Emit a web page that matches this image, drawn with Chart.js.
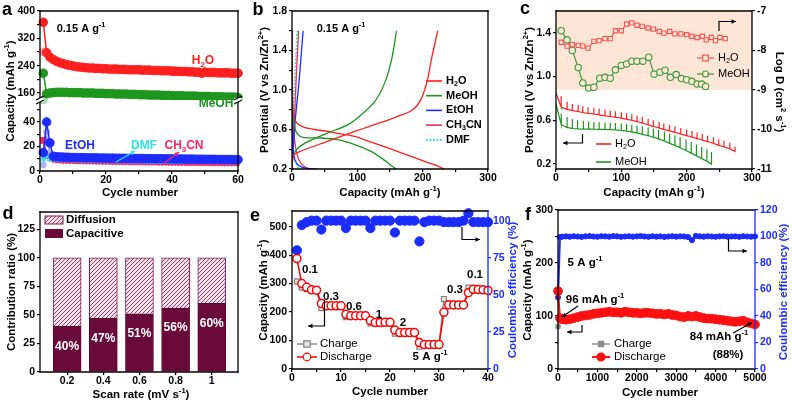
<!DOCTYPE html>
<html>
<head>
<meta charset="utf-8">
<title>Solvent comparison</title>
<script src="https://cdn.jsdelivr.net/npm/chart.js@4.4.1/dist/chart.umd.min.js"></script>
<style>
  html, body { margin: 0; padding: 0; background: #fff; }
  #fig { position: relative; width: 792px; height: 404px; overflow: hidden; background: #fff; }
  #fig canvas { position: absolute; left: 0; top: 0; }
</style>
</head>
<body>
<div id="fig">
  <canvas id="aTop" width="792" height="404"></canvas>
  <canvas id="aBot" width="792" height="404"></canvas>
  <canvas id="cvB" width="792" height="404"></canvas>
  <canvas id="cvC" width="792" height="404"></canvas>
  <canvas id="cvD" width="792" height="404"></canvas>
  <canvas id="cvE" width="792" height="404"></canvas>
  <canvas id="cvF" width="792" height="404"></canvas>
</div>
<script>
// ---- a: capacity vs cycle in each solvent (0.15 A/g) ----
const aCycles = [1, 2, 3, 4, 5, 6, 7, 8, 9, 10, 11, 12, 13, 14, 15, 16, 17, 18, 19, 20,
  21, 22, 23, 24, 25, 26, 27, 28, 29, 30, 31, 32, 33, 34, 35, 36, 37, 38, 39, 40,
  41, 42, 43, 44, 45, 46, 47, 48, 49, 50, 51, 52, 53, 54, 55, 56, 57, 58, 59, 60];
const aH2O = [367, 278, 265, 258, 253, 249, 246, 243, 241, 239,
  237, 236, 235, 234, 233, 233, 232, 232, 231, 231,
  230, 230, 230, 229, 229, 229, 228, 228, 228, 228,
  227, 227, 227, 226, 226, 226, 225, 225, 225, 224,
  224, 223, 223, 223, 222, 222, 221, 221, 218, 221,
  220, 220, 220, 219, 219, 219, 219, 218, 218, 218];
const aMeOH = [218, 158, 160, 161, 162, 162, 162, 162, 161, 161,
  161, 161, 160, 160, 160, 160, 159, 159, 159, 158,
  158, 158, 157, 157, 157, 157, 156, 156, 156, 155,
  155, 155, 154, 154, 154, 154, 153, 153, 153, 152,
  152, 152, 152, 151, 151, 151, 151, 150, 150, 150,
  150, 149, 149, 149, 149, 148, 148, 148, 148, 147];
const aEtOH = [15, 40, 23, 12, 11.6, 11.4, 11.3, 11.2, 11.1, 11.0,
  11.0, 10.9, 10.9, 10.8, 10.8, 10.7, 10.7, 10.6, 10.6, 10.5,
  10.5, 10.5, 10.4, 10.4, 10.4, 10.3, 10.3, 10.3, 10.2, 10.2,
  10.2, 10.1, 10.1, 10.1, 10.0, 10.0, 10.0, 9.9, 9.9, 9.9,
  9.8, 9.8, 9.8, 9.7, 9.7, 9.7, 9.6, 9.6, 9.6, 9.5,
  9.5, 9.5, 9.5, 9.4, 9.4, 9.4, 9.4, 9.3, 9.3, 9.3];
const aCH3CN = [25, 11, 9, 8, 7.6, 7.4, 7.2, 7.1, 7.0, 6.9,
  6.8, 6.8, 6.7, 6.7, 6.6, 6.6, 6.5, 6.5, 6.4, 6.4,
  6.3, 6.3, 6.2, 6.2, 6.1, 6.1, 6.0, 6.0, 6.0, 5.9,
  5.9, 5.9, 5.8, 5.8, 5.8, 5.7, 5.7, 5.7, 5.6, 5.6,
  5.6, 5.5, 5.5, 5.5, 5.4, 5.4, 5.4, 5.3, 5.3, 5.3,
  5.3, 5.2, 5.2, 5.2, 5.2, 5.1, 5.1, 5.1, 5.1, 5.0];
const aDMF = [10, 12, 9.5, 8.8, 8.5, 8.3, 8.2, 8.1, 8.0, 7.9,
  7.9, 7.8, 7.8, 7.7, 7.7, 7.6, 7.6, 7.5, 7.5, 7.4,
  7.4, 7.4, 7.3, 7.3, 7.3, 7.2, 7.2, 7.2, 7.1, 7.1,
  7.1, 7.0, 7.0, 7.0, 6.9, 6.9, 6.9, 6.8, 6.8, 6.8,
  6.8, 6.7, 6.7, 6.7, 6.7, 6.6, 6.6, 6.6, 6.6, 6.5,
  6.5, 6.5, 6.5, 6.5, 6.4, 6.4, 6.4, 6.4, 6.4, 6.3];
const aChargeCycles = [1, 2, 3, 4];
const aEtOHCharge = [5, 32, 14, 10];
const aH2OCharge1 = [280];
const aMeOHCharge1 = [140];
const aTicksX = [0, 20, 40, 60];
const aTicksUpper = [160, 240, 320, 400];
const aTicksLower = [0, 20, 40];

// ---- b: charge/discharge profiles ----
const bH2ODisCap = [0, 0.3, 0.8, 2, 5, 10, 20, 35, 55, 75, 96, 120, 147, 175, 208, 225, 233];
const bH2ODisV = [1.6, 1.2, 0.85, 0.74, 0.69, 0.65, 0.62, 0.6, 0.58, 0.555, 0.53, 0.475, 0.413, 0.345, 0.265, 0.225, 0.2];
const bH2OChgCap = [0, 1, 3, 10, 25, 50, 75, 96, 120, 140, 162, 180, 190, 197, 203, 208, 213, 218, 223];
const bH2OChgV = [0.2, 0.3, 0.345, 0.37, 0.41, 0.47, 0.53, 0.58, 0.635, 0.68, 0.734, 0.78, 0.83, 0.9, 1.0, 1.12, 1.3, 1.45, 1.6];
const bMeOHDisCap = [0, 0.5, 2, 5, 9, 17, 45, 70, 96, 121, 135, 147, 157, 160];
const bMeOHDisV = [1.6, 1.0, 0.72, 0.6, 0.55, 0.52, 0.514, 0.497, 0.447, 0.379, 0.32, 0.26, 0.21, 0.2];
const bMeOHChgCap = [0, 2, 9, 25, 55, 86, 106, 127, 143, 153, 160];
const bMeOHChgV = [0.2, 0.33, 0.41, 0.48, 0.565, 0.65, 0.75, 0.886, 1.09, 1.325, 1.6];
const bEtOHChgCap = [0, 1, 3, 5, 8, 11, 14, 17];
const bEtOHChgV = [0.2, 0.35, 0.5, 0.7, 0.9, 1.1, 1.35, 1.6];
const bEtOHDisCap = [0, 0.5, 1, 2, 4, 8, 15, 25, 38];
const bEtOHDisV = [1.6, 1.0, 0.6, 0.4, 0.3, 0.25, 0.22, 0.205, 0.2];
const bCH3CNChgCap = [0, 1, 3, 5, 7, 9, 10];
const bCH3CNChgV = [0.2, 0.4, 0.6, 0.9, 1.2, 1.45, 1.6];
const bCH3CNDisCap = [0, 0.5, 1, 3, 6, 10, 15, 20, 25];
const bCH3CNDisV = [1.6, 1.0, 0.75, 0.55, 0.4, 0.3, 0.25, 0.22, 0.2];
const bDMFChgCap = [0, 1, 2, 4, 6, 8];
const bDMFChgV = [0.2, 0.5, 0.8, 1.1, 1.35, 1.6];
const bDMFDisCap = [0, 0.5, 1, 3, 6, 9, 12];
const bDMFDisV = [1.6, 0.8, 0.5, 0.35, 0.27, 0.22, 0.2];
const bTicksX = [0, 100, 200, 300];
const bTicksY = [0.2, 0.6, 1.0, 1.4, 1.8];
const bTickLabelsY = ['0.2', '0.6', '1.0', '1.4', '1.8'];

// ---- c: GITT curves and diffusion coefficients ----
const cH2OPulseCap = [0, 8, 17, 25, 34, 41, 49, 58, 66, 75, 83, 91, 100, 108, 116, 124, 132,
  141, 149, 158, 165, 174, 182, 191, 200, 208, 216, 224, 232, 241, 249, 257, 266, 274];
const cH2OBase = [0.85, 0.72, 0.70, 0.69, 0.68, 0.672, 0.665, 0.658, 0.65, 0.642, 0.635, 0.628, 0.62, 0.61, 0.6, 0.588, 0.575,
  0.56, 0.545, 0.53, 0.517, 0.503, 0.49, 0.475, 0.46, 0.447, 0.433, 0.42, 0.405, 0.39, 0.372, 0.358, 0.34, 0.315];
const cH2OTop = [0.85, 0.82, 0.77, 0.75, 0.74, 0.73, 0.72, 0.715, 0.705, 0.697, 0.69, 0.683, 0.675, 0.665, 0.655, 0.643, 0.63,
  0.615, 0.6, 0.585, 0.572, 0.558, 0.545, 0.53, 0.515, 0.502, 0.488, 0.475, 0.46, 0.445, 0.427, 0.413, 0.395, 0.36];
const cMeOHPulseCap = [0, 8, 17, 25, 33, 42, 50, 58, 66, 75, 83, 91, 100, 108, 116,
  124, 132, 141, 149, 157, 166, 174, 182, 190, 199, 207, 215, 223, 231, 238];
const cMeOHBase = [0.75, 0.56, 0.535, 0.525, 0.522, 0.52, 0.52, 0.519, 0.518, 0.517, 0.515, 0.512, 0.508, 0.502, 0.494,
  0.485, 0.473, 0.46, 0.445, 0.43, 0.41, 0.39, 0.37, 0.35, 0.325, 0.3, 0.275, 0.25, 0.225, 0.2];
const cMeOHTop = [0.75, 0.66, 0.63, 0.61, 0.6, 0.595, 0.59, 0.585, 0.582, 0.58, 0.578, 0.575, 0.572, 0.567, 0.56,
  0.553, 0.545, 0.535, 0.525, 0.513, 0.497, 0.48, 0.463, 0.447, 0.425, 0.402, 0.38, 0.357, 0.333, 0.31];
const cH2OLogDCap = [8, 17, 25, 34, 41, 49, 58, 66, 75, 83, 91, 100, 108, 116, 124, 132,
  141, 149, 158, 165, 174, 182, 191, 200, 208, 216, 224, 230, 238, 244, 251, 259];
const cH2OLogD = [-7.79, -7.89, -7.85, -7.87, -7.89, -7.94, -7.77, -7.75, -7.70, -7.70, -7.50, -7.50, -7.33, -7.30, -7.36, -7.39,
  -7.43, -7.46, -7.52, -7.56, -7.52, -7.58, -7.58, -7.60, -7.64, -7.67, -7.64, -7.73, -7.67, -7.75, -7.67, -7.70];
const cMeOHLogDCap = [8, 17, 25, 34, 41, 50, 58, 67, 75, 83, 91, 100, 108, 116,
  124, 133, 142, 150, 159, 167, 175, 184, 192, 200, 208, 216, 223, 229];
const cMeOHLogD = [-7.50, -7.73, -8.00, -8.43, -8.82, -8.95, -8.93, -8.70, -8.68, -8.70, -8.49, -8.38, -8.34, -8.27,
  -8.27, -8.27, -8.17, -8.60, -8.55, -8.50, -8.68, -8.61, -8.71, -8.74, -8.78, -8.85, -8.85, -8.91];
const cTicksX = [0, 100, 200, 300];
const cTicksY = [0.2, 0.6, 1.0, 1.4];
const cTickLabelsY = ['0.2', '0.6', '1.0', '1.4'];
const cTicksLogD = [-11, -10, -9, -8, -7];

// ---- d: capacitive / diffusion contribution ----
const dScanRates = [0.2, 0.4, 0.6, 0.8, 1];
const dCapacitive = [40, 47, 51, 56, 60];
const dDiffusion = [60, 53, 49, 44, 40];
const dTickLabelsX = ['0.2', '0.4', '0.6', '0.8', '1'];
const dTicksY = [0, 25, 50, 75, 100, 125];

// ---- e: rate performance ----
const eCycles = [1, 2, 3, 4, 5, 6, 7, 8, 9, 10, 11, 12, 13, 14, 15, 16, 17, 18, 19, 20,
  21, 22, 23, 24, 25, 26, 27, 28, 29, 30, 31, 32, 33, 34, 35, 36, 37, 38, 39, 40];
const eDischarge = [388, 300, 287, 278, 277, 230, 222, 222, 222, 222,
  192, 187, 187, 187, 187, 170, 163, 163, 164, 164,
  137, 128, 128, 128, 128, 93, 86, 86, 86, 86,
  199, 226, 225, 225, 225, 268, 280, 279, 278, 276];
const eCharge = [308, 286, 280, 276, 275, 214, 220, 221, 221, 221,
  182, 185, 186, 186, 186, 160, 161, 162, 163, 163,
  124, 126, 127, 127, 127, 78, 84, 85, 85, 85,
  246, 224, 224, 224, 224, 286, 278, 277, 276, 274];
const eCE = [80, 97, 99, 100, 100, 94, 100, 100, 100, 100,
  95, 100, 100, 100, 100, 95, 100, 100, 100, 100,
  92, 100, 100, 100, 100, 86, 99, 100, 100, 100,
  99, 99, 99, 99, 100, 105, 99, 99, 99, 99];
const eTicksX = [0, 10, 20, 30, 40];
const eTicksY = [0, 100, 200, 300, 400, 500];
const eTicksCE = [0, 25, 50, 75, 100];

// ---- f: long cycling at 5 A/g ----
const fCycles = [1, 50, 100, 200, 300, 400, 500, 600, 700, 800, 900, 1000, 1100, 1200, 1300, 1400, 1500,
  1600, 1700, 1800, 1900, 2000, 2100, 2200, 2300, 2400, 2500, 2600, 2700, 2800, 2900, 3000, 3100,
  3200, 3300, 3400, 3500, 3600, 3700, 3800, 3900, 4000, 4100, 4200, 4300, 4400, 4500, 4600, 4700,
  4800, 4900, 5000];
const fDischarge = [147, 96, 94, 93, 94, 96, 98, 100, 101, 102, 104, 105, 106, 107, 108, 107, 107,
  106, 108, 107, 106, 106, 105, 106, 106, 105, 104, 104, 103, 104, 102, 101, 99,
  98, 100, 99, 100, 98, 96, 95, 95, 94, 93, 92, 91, 90, 89, 90, 91,
  88, 86, 84];
const fCE = [54, 99.6, 99.8, 100.1, 99.9, 100.2, 100.0, 99.7, 100.1, 100.3, 100.0, 99.8, 100.2, 100.1, 99.9, 100.3, 100.1,
  99.8, 100.0, 100.2, 99.9, 100.1, 100.3, 100.0, 99.8, 100.2, 99.9, 100.1, 99.7, 100.0, 100.2, 99.9, 100.1,
  100.0, 99.6, 97.3, 100.4, 100.1, 99.9, 100.2, 100.0, 99.8, 100.1, 100.2, 99.9, 100.0, 100.1, 99.8, 100.2,
  100.0, 99.9, 100.1];
const fChargeCycles = [1, 50, 100];
const fCharge = [80, 95, 93];
const fTicksX = [0, 1000, 2000, 3000, 4000, 5000];
const fTicksY = [0, 100, 200, 300];
const fTicksCE = [0, 20, 40, 60, 80, 100, 120];

// ================= drawing =================
const FONT = '"Liberation Sans", Arial, Helvetica, sans-serif';
const AX_W = 30, AX_H = 18;
const RED = '#ff1f1f', GREEN = '#1e961e', BLUE = '#1c2cff', CRIMSON = '#ff2466', CYAN = '#2fe3ea';
const MAROON = '#6a0a38', CE_BLUE = '#1a2cff';

Chart.defaults.font.family = FONT;
Chart.defaults.font.size = 10.5;
Chart.defaults.font.weight = 'bold';
Chart.defaults.color = '#000';
Chart.defaults.animation = false;
Chart.defaults.responsive = false;
Chart.defaults.devicePixelRatio = 1;
Chart.defaults.events = [];
Chart.defaults.plugins.legend.display = false;
Chart.defaults.plugins.tooltip.enabled = false;

// box around the plot area, sides chosen per chart
Chart.register({
  id: 'frame',
  defaults: { sides: 'ltrb', right: '#000' },
  afterDatasetsDraw(chart, args, o) {
    const { left, right, top, bottom } = chart.chartArea;
    const ctx = chart.ctx;
    ctx.save();
    ctx.lineWidth = 1.3;
    ctx.lineCap = 'square';
    const seg = (s, col, x1, y1, x2, y2) => {
      if (!o.sides.includes(s)) return;
      ctx.strokeStyle = col;
      ctx.beginPath(); ctx.moveTo(x1, y1); ctx.lineTo(x2, y2); ctx.stroke();
    };
    seg('t', '#000', left, top, right, top);
    seg('b', '#000', left, bottom, right, bottom);
    seg('l', '#000', left, top, left, bottom);
    seg('r', o.right, right, top, right, bottom);
    ctx.restore();
  }
});

function parseRich(str) {
  const segs = [];
  const re = /([\^_])\{([^}]*)\}/g;
  let last = 0, m;
  while ((m = re.exec(str))) {
    if (m.index > last) segs.push({ t: str.slice(last, m.index), mode: 0 });
    segs.push({ t: m[2], mode: m[1] === '^' ? 1 : -1 });
    last = re.lastIndex;
  }
  if (last < str.length) segs.push({ t: str.slice(last), mode: 0 });
  return segs;
}

// text with ^{sup} and _{sub}, centred on (x, y) unless align says otherwise
function txt(ctx, str, x, y, o = {}) {
  const size = o.size || 11.5, weight = o.weight || 'bold';
  const segs = parseRich(str);
  let w = 0;
  for (const s of segs) {
    s.size = s.mode ? size * 0.66 : size;
    ctx.font = `${weight} ${s.size}px ${FONT}`;
    s.w = ctx.measureText(s.t).width;
    w += s.w;
  }
  ctx.save();
  ctx.translate(x, y);
  if (o.rot) ctx.rotate(o.rot);
  ctx.fillStyle = o.color || '#000';
  ctx.textBaseline = 'middle';
  ctx.textAlign = 'left';
  let cx = o.align === 'left' ? 0 : o.align === 'right' ? -w : -w / 2;
  for (const s of segs) {
    ctx.font = `${weight} ${s.size}px ${FONT}`;
    ctx.fillText(s.t, cx, s.mode > 0 ? -size * 0.36 : s.mode < 0 ? size * 0.3 : 0);
    cx += s.w;
  }
  ctx.restore();
}

function arrow(ctx, pts, color = '#000') {
  ctx.save();
  ctx.strokeStyle = color; ctx.fillStyle = color; ctx.lineWidth = 1.2;
  ctx.beginPath();
  ctx.moveTo(pts[0][0], pts[0][1]);
  for (const p of pts.slice(1)) ctx.lineTo(p[0], p[1]);
  ctx.stroke();
  const [x1, y1] = pts[pts.length - 2], [x2, y2] = pts[pts.length - 1];
  const a = Math.atan2(y2 - y1, x2 - x1), h = 5;
  ctx.beginPath();
  ctx.moveTo(x2, y2);
  ctx.lineTo(x2 - h * Math.cos(a - 0.45), y2 - h * Math.sin(a - 0.45));
  ctx.lineTo(x2 - h * Math.cos(a + 0.45), y2 - h * Math.sin(a + 0.45));
  ctx.closePath();
  ctx.fill();
  ctx.restore();
}

function marker(ctx, x, y, style, r, stroke, fill, lw = 1.2) {
  ctx.save();
  ctx.lineWidth = lw; ctx.strokeStyle = stroke; ctx.fillStyle = fill;
  ctx.beginPath();
  if (style === 'rect') ctx.rect(x - r, y - r, 2 * r, 2 * r);
  else ctx.arc(x, y, r, 0, Math.PI * 2);
  ctx.fill(); ctx.stroke();
  ctx.restore();
}

function legendLine(ctx, x1, x2, y, color, o = {}) {
  ctx.save();
  ctx.strokeStyle = color; ctx.lineWidth = o.lw || 1.5;
  if (o.dash) ctx.setLineDash(o.dash);
  ctx.beginPath(); ctx.moveTo(x1, y); ctx.lineTo(x2, y); ctx.stroke();
  ctx.restore();
  if (o.marker) marker(ctx, (x1 + x2) / 2, y, o.marker, o.r || 3, color, o.fill || color);
}

// axis break "//" mark
function breakMark(ctx, x, y) {
  ctx.save();
  ctx.fillStyle = '#fff';
  ctx.fillRect(x - 4, y - 2, 8, 4);
  ctx.strokeStyle = '#000'; ctx.lineWidth = 1.2;
  ctx.beginPath();
  ctx.moveTo(x - 4, y); ctx.lineTo(x + 4, y - 4);
  ctx.moveTo(x - 4, y + 4); ctx.lineTo(x + 4, y);
  ctx.stroke();
  ctx.restore();
}

function linAxis(pos, min, max, major, labels, opt = {}) {
  const lab = new Map(major.map((v, i) => [v, labels ? labels[i] : String(v)]));
  const all = major.concat(opt.minor || []).sort((a, b) => a - b);
  const color = opt.color || '#000';
  const shown = opt.display !== false;
  return {
    type: 'linear', position: pos, min, max, offset: false,
    display: shown,
    stacked: !!opt.stacked,
    grid: { offset: false, drawOnChartArea: false, drawTicks: true, tickLength: 3, color, lineWidth: 1.2 },
    border: { display: false },
    ticks: {
      color, padding: pos === 'bottom' ? 0 : 2, maxRotation: 0, autoSkip: false,
      font: { size: 10.5, weight: 'bold' },
      callback: v => (lab.has(v) ? lab.get(v) : ''),
    },
    afterBuildTicks: s => { s.ticks = all.map(v => ({ value: v })); },
    afterFit: s => {
      if (!shown) return;
      if (pos === 'bottom') s.height = AX_H; else s.width = AX_W;
    },
  };
}

function makeChart(id, type, area, scales, datasets, deco, frame) {
  const shown = Object.values(scales).filter(s => s.display !== false);
  const has = p => shown.some(s => s.position === p);
  const padding = {
    left: area.l - (has('left') ? AX_W : 0),
    right: 792 - area.r - (has('right') ? AX_W : 0),
    top: area.t,
    bottom: 404 - area.b - (has('bottom') ? AX_H : 0),
  };
  return new Chart(document.getElementById(id), {
    type,
    data: { datasets },
    options: {
      layout: { padding, autoPadding: false },
      scales,
      plugins: { frame: frame || {} },
    },
    plugins: [{
      id: 'deco',
      beforeDatasetsDraw: c => { if (deco && deco.under) deco.under(c.ctx, c); },
      afterDraw: c => { if (deco && deco.over) deco.over(c.ctx, c); },
    }],
  });
}

const xy = (xs, ys) => xs.map((x, i) => ({ x, y: ys[i] }));
const gitt = (caps, base, top) => {
  const out = [];
  caps.forEach((c, i) => {
    out.push({ x: c, y: base[i] });
    if (top[i] !== base[i]) { out.push({ x: c, y: top[i] }); out.push({ x: c, y: base[i] }); }
  });
  return out;
};
const dotSeries = (data, color, r, extra = {}) => Object.assign({
  data, borderColor: color, backgroundColor: color, pointBackgroundColor: color,
  pointBorderColor: color, pointRadius: r, borderWidth: 1.5, pointBorderWidth: 1, clip: false,
}, extra);
const lineSeries = (data, color, extra = {}) => Object.assign({
  data, borderColor: color, backgroundColor: color, pointRadius: 0, borderWidth: 1.3, tension: 0.25,
}, extra);

const UP = -Math.PI / 2, DOWN = Math.PI / 2;

// ---------- panel a (broken axis: two stacked charts) ----------
makeChart('aTop', 'line', { l: 40, r: 238, t: 11, b: 100 }, {
  x: linAxis('bottom', 0, 60, aTicksX, null, { display: false }),
  y: linAxis('left', 139.5, 400, aTicksUpper, null, { minor: [200, 280, 360] }),
}, [
  dotSeries(xy(aCycles, aH2O), RED, 4.3),
  dotSeries(xy(aCycles, aMeOH), GREEN, 4.3, { clip: { left: 8, right: 8, top: 8, bottom: 0 } }),
  dotSeries(xy([1], aH2OCharge1), '#f4a3a3', 4),
  dotSeries(xy([1], aMeOHCharge1), '#a9dba9', 4),
], null, { sides: 'ltr' });

makeChart('aBot', 'line', { l: 40, r: 238, t: 100, b: 171 }, {
  x: linAxis('bottom', 0, 60, aTicksX, null, { minor: [10, 30, 50] }),
  y: linAxis('left', 0, 58, aTicksLower, null, { minor: [10, 30, 50] }),
}, [
  dotSeries(xy(aCycles, aEtOH), BLUE, 4.3),
  dotSeries(xy(aCycles, aDMF), CYAN, c => (c.dataIndex < 3 ? 3 : 1.4), { pointStyle: 'triangle' }),
  dotSeries(xy(aCycles, aCH3CN), CRIMSON, c => (c.dataIndex < 1 ? 4 : 1.5), { pointStyle: 'rect' }),
  dotSeries(xy(aChargeCycles, aEtOHCharge), '#aab3f2', 3, { borderWidth: 2.5 }),
], {
  over(ctx) {
    breakMark(ctx, 40, 100);
    breakMark(ctx, 238, 100);
    txt(ctx, 'a', 7, 10, { size: 18 });
    txt(ctx, 'Capacity (mAh g^{-1})', 11, 91, { rot: UP });
    txt(ctx, 'Cycle number', 140, 193);
    txt(ctx, '0.15 A g^{-1}', 81, 29, { size: 11 });
    txt(ctx, 'H_{2}O', 203, 61, { color: RED, size: 12 });
    txt(ctx, 'MeOH', 216, 104, { color: GREEN, size: 12 });
    txt(ctx, 'EtOH', 80, 146, { color: BLUE, size: 12 });
    txt(ctx, 'DMF', 144, 146, { color: CYAN, size: 12 });
    txt(ctx, 'CH_{3}CN', 184, 146, { color: CRIMSON, size: 12 });
    arrow(ctx, [[116, 162], [135, 151]], CYAN);
    arrow(ctx, [[163, 164], [179, 152]], CRIMSON);
  },
}, { sides: 'lrb' });

// ---------- panel b ----------
const bCurves = [
  [bH2ODisCap, bH2ODisV, RED], [bH2OChgCap, bH2OChgV, RED],
  [bMeOHDisCap, bMeOHDisV, GREEN], [bMeOHChgCap, bMeOHChgV, GREEN],
  [bEtOHDisCap, bEtOHDisV, BLUE], [bEtOHChgCap, bEtOHChgV, BLUE],
  [bCH3CNDisCap, bCH3CNDisV, '#e8325c'], [bCH3CNChgCap, bCH3CNChgV, '#e8325c'],
  [bDMFDisCap, bDMFDisV, CYAN], [bDMFChgCap, bDMFChgV, CYAN],
];
makeChart('cvB', 'line', { l: 292, r: 488, t: 11, b: 169 }, {
  x: linAxis('bottom', 0, 300, bTicksX, null, { minor: [50, 150, 250] }),
  y: linAxis('left', 0.2, 1.8, bTicksY, bTickLabelsY, { minor: [0.4, 0.8, 1.2, 1.6] }),
}, bCurves.map(([c, v, col]) => lineSeries(xy(c, v), col,
  col === CYAN ? { borderDash: [2, 1.5], borderWidth: 1.6 } : {})), {
  over(ctx) {
    txt(ctx, 'b', 258, 10, { size: 18 });
    txt(ctx, 'Potential (V vs Zn/Zn^{2+})', 265, 90, { rot: UP });
    txt(ctx, 'Capacity (mAh g^{-1})', 390, 193);
    txt(ctx, '0.15 A g^{-1}', 341, 29, { size: 11 });
    const leg = [['H_{2}O', RED], ['MeOH', GREEN], ['EtOH', BLUE], ['CH_{3}CN', '#e8325c'], ['DMF', CYAN]];
    leg.forEach(([name, col], i) => {
      const y = 81 + i * 14.7;
      legendLine(ctx, 426, 442, y, col, col === CYAN ? { dash: [2, 1.5], lw: 1.8 } : { lw: 1.6 });
      txt(ctx, name, 446, y, { align: 'left', size: 11 });
    });
  },
});

// ---------- panel c ----------
makeChart('cvC', 'line', { l: 556, r: 752, t: 11, b: 169 }, {
  x: linAxis('bottom', 0, 300, cTicksX, null, { minor: [50, 150, 250] }),
  y: linAxis('left', 0.155, 1.6, cTicksY, cTickLabelsY),
  y2: linAxis('right', -11, -7, cTicksLogD),
}, [
  { data: xy(cH2OLogDCap, cH2OLogD), yAxisID: 'y2', borderColor: '#f25555', borderWidth: 1.2,
    pointStyle: 'rect', pointRadius: 3, pointBorderColor: '#f25555', pointBackgroundColor: '#fde6d6', pointBorderWidth: 1.1 },
  { data: xy(cMeOHLogDCap, cMeOHLogD), yAxisID: 'y2', borderColor: '#3d9b3d', borderWidth: 1.2,
    pointRadius: 3.2, pointBorderColor: '#3d9b3d', pointBackgroundColor: '#fde6d6', pointBorderWidth: 1.1 },
  lineSeries(gitt(cH2OPulseCap, cH2OBase, cH2OTop), RED, { tension: 0, borderWidth: 1.2 }),
  lineSeries(gitt(cMeOHPulseCap, cMeOHBase, cMeOHTop), GREEN, { tension: 0, borderWidth: 1.2 }),
], {
  under(ctx, ch) {
    const { left, right, top } = ch.chartArea;
    const yB = ch.scales.y2.getPixelForValue(-9);
    ctx.save();
    ctx.fillStyle = '#fde6d6';
    ctx.fillRect(left, top, right - left, yB - top);
    ctx.restore();
  },
  over(ctx) {
    txt(ctx, 'c', 525, 9, { size: 18 });
    txt(ctx, 'Potential (V vs Zn/Zn^{2+})', 530, 90, { rot: UP });
    txt(ctx, 'Log D (cm^{2} s^{-1})', 779, 92, { rot: DOWN });
    txt(ctx, 'Capacity (mAh g^{-1})', 654, 193);
    legendLine(ctx, 697, 714, 58, '#f25555', { marker: 'rect', r: 2.8, fill: '#fde6d6', lw: 1.2 });
    txt(ctx, 'H_{2}O', 718, 58, { align: 'left', size: 11, weight: 'normal' });
    legendLine(ctx, 697, 714, 74, '#3d9b3d', { marker: 'circle', r: 3, fill: '#fde6d6', lw: 1.2 });
    txt(ctx, 'MeOH', 718, 74, { align: 'left', size: 11, weight: 'normal' });
    legendLine(ctx, 596, 611, 144, RED, { lw: 1.6 });
    txt(ctx, 'H_{2}O', 615, 144, { align: 'left', size: 11, weight: 'normal' });
    legendLine(ctx, 596, 611, 162, GREEN, { lw: 1.6 });
    txt(ctx, 'MeOH', 615, 162, { align: 'left', size: 11, weight: 'normal' });
    arrow(ctx, [[719, 31], [719, 21.5], [736, 21.5]]);
    arrow(ctx, [[582.5, 134], [582.5, 143], [563, 143]]);
  },
});

// ---------- panel d ----------
const dCanvas = document.getElementById('cvD');
const hatch = (() => {
  const t = document.createElement('canvas');
  t.width = 4; t.height = 4;
  const g = t.getContext('2d');
  g.fillStyle = '#f6e3ea'; g.fillRect(0, 0, 4, 4);
  g.strokeStyle = '#8e2f5e'; g.lineWidth = 0.9;
  g.beginPath();
  g.moveTo(0, 4); g.lineTo(4, 0);
  g.moveTo(-1, 1); g.lineTo(1, -1);
  g.moveTo(3, 5); g.lineTo(5, 3);
  g.stroke();
  return dCanvas.getContext('2d').createPattern(t, 'repeat');
})();
makeChart('cvD', 'bar', { l: 40, r: 238, t: 212, b: 372 }, {
  x: linAxis('bottom', 0.05, 1.145, dScanRates, dTickLabelsX, { stacked: true }),
  y: linAxis('left', 0, 140, dTicksY, null, { stacked: true }),
}, [
  { label: 'Capacitive', data: xy(dScanRates, dCapacitive), backgroundColor: MAROON, borderColor: '#5a0630',
    borderWidth: 1, barThickness: 28 },
  { label: 'Diffusion', data: xy(dScanRates, dDiffusion), backgroundColor: hatch, borderColor: '#7c1d4e',
    borderWidth: 1, barThickness: 28 },
], {
  over(ctx, ch) {
    txt(ctx, 'd', 8, 214, { size: 18 });
    txt(ctx, 'Contribution ratio (%)', 12, 292, { rot: UP });
    txt(ctx, 'Scan rate (mV s^{-1})', 141, 395);
    ctx.save();
    ctx.fillStyle = hatch; ctx.strokeStyle = '#7c1d4e'; ctx.lineWidth = 1;
    ctx.fillRect(45, 216, 18, 8); ctx.strokeRect(45, 216, 18, 8);
    ctx.fillStyle = MAROON;
    ctx.fillRect(45, 229, 18, 9);
    ctx.restore();
    txt(ctx, 'Diffusion', 66, 220, { align: 'left', size: 11.5 });
    txt(ctx, 'Capacitive', 66, 234, { align: 'left', size: 11.5 });
    dScanRates.forEach((r, i) => {
      const x = ch.scales.x.getPixelForValue(r);
      const y = ch.scales.y.getPixelForValue(dCapacitive[i]) + 20;
      txt(ctx, dCapacitive[i] + '%', x, y, { color: '#fff', size: 12 });
    });
  },
});

// ---------- panel e ----------
makeChart('cvE', 'line', { l: 292, r: 488, t: 211, b: 369 }, {
  x: linAxis('bottom', 0, 40, eTicksX, null, { minor: [5, 15, 25, 35] }),
  y: linAxis('left', 0, 555, eTicksY),
  y2: linAxis('right', 0, 106.5, eTicksCE, null, { color: CE_BLUE }),
}, [
  dotSeries(xy(eCycles, eDischarge), '#ff0000', 4, { pointBackgroundColor: '#fff', pointBorderWidth: 1.5, borderWidth: 1.5 }),
  dotSeries(xy(eCycles, eCharge), '#808080', 3.5, { pointStyle: 'rect', pointBackgroundColor: '#e6e6e6', pointBorderWidth: 1.2, borderWidth: 1.3 }),
  dotSeries(xy(eCycles, eCE), CE_BLUE, 4.6, { yAxisID: 'y2', showLine: false }),
], {
  over(ctx) {
    txt(ctx, 'e', 255, 216, { size: 18 });
    txt(ctx, 'Capacity (mAh g^{-1})', 264, 290, { rot: UP });
    txt(ctx, 'Coulombic efficiency (%)', 513, 290, { rot: UP, color: CE_BLUE });
    txt(ctx, 'Cycle number', 390, 392);
    txt(ctx, '0.1', 310, 270);
    txt(ctx, '0.3', 331, 297);
    txt(ctx, '0.6', 354, 307);
    txt(ctx, '1', 379, 315);
    txt(ctx, '2', 403, 323);
    txt(ctx, '5 A g^{-1}', 430, 357);
    txt(ctx, '0.3', 455, 290);
    txt(ctx, '0.1', 475, 275);
    arrow(ctx, [[324.5, 300], [324.5, 326], [308, 326]]);
    arrow(ctx, [[462, 227], [462, 239.5], [480, 239.5]]);
    legendLine(ctx, 297, 317, 344, '#808080', { marker: 'rect', r: 3.2, fill: '#e6e6e6', lw: 1.4 });
    txt(ctx, 'Charge', 320, 344, { align: 'left', weight: 'normal' });
    legendLine(ctx, 297, 317, 357, '#ff0000', { marker: 'circle', r: 3.8, fill: '#fff', lw: 1.5 });
    txt(ctx, 'Discharge', 320, 357, { align: 'left', weight: 'normal' });
  },
}, { right: CE_BLUE });

// ---------- panel f ----------
makeChart('cvF', 'line', { l: 558, r: 755, t: 210, b: 369 }, {
  x: linAxis('bottom', 0, 5000, fTicksX, null, { minor: [500, 1500, 2500, 3500, 4500] }),
  y: linAxis('left', 0, 300, fTicksY, null, { minor: [50, 150, 250] }),
  y2: linAxis('right', 0, 120, fTicksCE, null, { color: CE_BLUE }),
}, [
  dotSeries(xy(fCycles, fDischarge), '#ff1010', 4.4, { borderWidth: 2 }),
  dotSeries(xy(fChargeCycles, fCharge), '#8c8c8c', 3, { pointStyle: 'rect' }),
  dotSeries(xy(fCycles, fCE), CE_BLUE, 2.6, { yAxisID: 'y2', borderWidth: 2 }),
], {
  over(ctx) {
    txt(ctx, 'f', 528, 215, { size: 18 });
    txt(ctx, 'Capacity (mAh g^{-1})', 528, 290, { rot: UP });
    txt(ctx, 'Coulombic efficiency (%)', 784, 292, { rot: UP, color: CE_BLUE });
    txt(ctx, 'Cycle number', 660, 393);
    txt(ctx, '5 A g^{-1}', 585, 263);
    txt(ctx, '96 mAh g^{-1}', 595, 300);
    arrow(ctx, [[578, 306], [562, 317]]);
    txt(ctx, '84 mAh g^{-1}', 719, 337);
    txt(ctx, '(88%)', 728, 355);
    arrow(ctx, [[733, 333], [752, 322.5]]);
    arrow(ctx, [[582, 325], [582, 332], [567, 332]]);
    arrow(ctx, [[728.5, 238.5], [728.5, 251], [747, 251]]);
    legendLine(ctx, 592, 610, 344, '#8c8c8c', { marker: 'rect', r: 2.6, lw: 1.4 });
    txt(ctx, 'Charge', 614, 344, { align: 'left', weight: 'normal' });
    legendLine(ctx, 592, 610, 357, '#ff1010', { marker: 'circle', r: 4, lw: 2 });
    txt(ctx, 'Discharge', 614, 357, { align: 'left', weight: 'normal' });
  },
}, { right: CE_BLUE });
</script>
</body>
</html>
